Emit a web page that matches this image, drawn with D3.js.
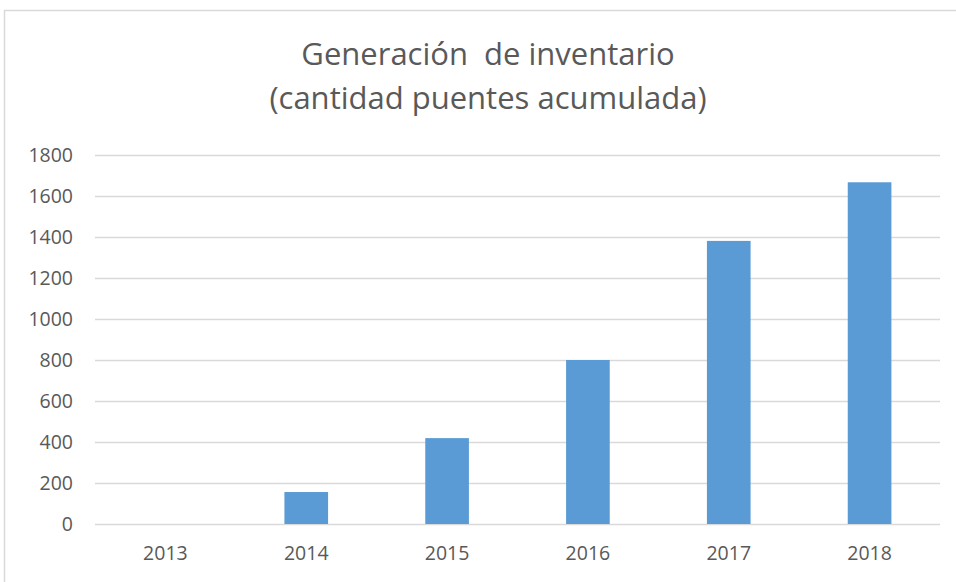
<!DOCTYPE html>
<html>
<head>
<meta charset="utf-8">
<script src="https://cdn.jsdelivr.net/npm/d3@7"></script>
<style>
  body { margin: 0; background: #fff; }
  text { font-family: "Open Sans", sans-serif; fill: #595959; }
</style>
</head>
<body>
<div id="chart"></div>
<script>
var years = ["2013", "2014", "2015", "2016", "2017", "2018"];
var puentes = [0, 156, 419, 800, 1381, 1667];
var yTicks = [0, 200, 400, 600, 800, 1000, 1200, 1400, 1600, 1800];
var titleLines = ["Generación  de inventario", "(cantidad puentes acumulada)"];

var W = 956, H = 582;
var margin = { top: 155, right: 16, bottom: 58, left: 95 },
  width = W - margin.left - margin.right,
  height = H - margin.top - margin.bottom;

var svg = d3.select("#chart")
  .append("svg")
  .attr("width", W)
  .attr("height", H);

// chart frame
svg.append("rect")
  .attr("x", 4.5).attr("y", 10.5)
  .attr("width", W + 10).attr("height", H + 10)
  .attr("fill", "none")
  .attr("stroke", "#d9d9d9")
  .attr("stroke-width", 1.5);

svg.selectAll(".title")
  .data(titleLines)
  .enter().append("text")
  .attr("class", "title")
  .attr("x", 488)
  .attr("y", function (d, i) { return 65 + i * 44; })
  .attr("text-anchor", "middle")
  .style("font-size", "31px")
  .style("white-space", "pre")
  .text(function (d) { return d; });

var g = svg.append("g")
  .attr("transform", "translate(" + margin.left + "," + margin.top + ")");

var x = d3.scaleBand()
  .domain(years)
  .range([0, width])
  .paddingInner(0.69)
  .paddingOuter(0.345);

var y = d3.scaleLinear()
  .domain([0, 1800])
  .range([height, 0]);

// gridlines
g.selectAll(".grid")
  .data(yTicks)
  .enter().append("line")
  .attr("x1", 0).attr("x2", width)
  .attr("y1", function (d) { return Math.round(y(d)) + 0.5; })
  .attr("y2", function (d) { return Math.round(y(d)) + 0.5; })
  .attr("stroke", "#d9d9d9")
  .attr("stroke-width", 1.5);

// y axis
var yAxis = g.append("g")
  .call(d3.axisLeft(y).tickValues(yTicks).tickFormat(d3.format("d")).tickSize(0).tickPadding(22));
yAxis.select(".domain").remove();
yAxis.selectAll("text").style("font-size", "19.5px");

// bars
g.selectAll(".bar")
  .data(puentes)
  .enter().append("rect")
  .attr("class", "bar")
  .attr("x", function (d, i) { return x(years[i]); })
  .attr("width", x.bandwidth())
  .attr("y", function (d) { return y(d); })
  .attr("height", function (d) { return height - y(d); })
  .attr("fill", "#5b9bd5");

// x axis
var xAxis = g.append("g")
  .attr("transform", "translate(0," + height + ")")
  .call(d3.axisBottom(x).tickSize(0).tickPadding(22));
xAxis.select(".domain").remove();
xAxis.selectAll("text").style("font-size", "19.5px");
</script>
</body>
</html>
